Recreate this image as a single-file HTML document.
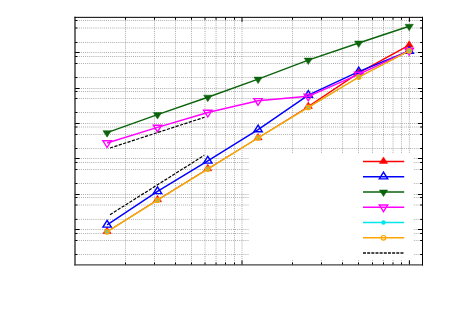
<!DOCTYPE html>
<html><head><meta charset="utf-8"><title>chart</title>
<style>html,body{margin:0;padding:0;background:#fff;font-family:"Liberation Sans",sans-serif;}body{width:450px;height:314px;overflow:hidden}</style>
</head><body>
<svg width="450" height="314" viewBox="0 0 450 314" style="display:block">
<rect width="450" height="314" fill="#fff"/>
<g stroke="#5c5c5c" stroke-width="0.5" stroke-dasharray="1 1.0833" fill="none">
<line x1="125.50" y1="18.5" x2="125.50" y2="264.9"/>
<line x1="154.50" y1="18.5" x2="154.50" y2="264.9"/>
<line x1="175.50" y1="18.5" x2="175.50" y2="264.9"/>
<line x1="191.50" y1="18.5" x2="191.50" y2="264.9"/>
<line x1="205.00" y1="18.5" x2="205.00" y2="264.9"/>
<line x1="216.05" y1="18.5" x2="216.05" y2="264.9"/>
<line x1="225.50" y1="18.5" x2="225.50" y2="264.9"/>
<line x1="234.50" y1="18.5" x2="234.50" y2="264.9"/>
<line x1="242.00" y1="18.5" x2="242.00" y2="264.9"/>
<line x1="292.50" y1="18.5" x2="292.50" y2="264.9"/>
<line x1="321.50" y1="18.5" x2="321.50" y2="264.9"/>
<line x1="342.50" y1="18.5" x2="342.50" y2="264.9"/>
<line x1="358.50" y1="18.5" x2="358.50" y2="264.9"/>
<line x1="372.50" y1="18.5" x2="372.50" y2="264.9"/>
<line x1="383.50" y1="18.5" x2="383.50" y2="264.9"/>
<line x1="393.00" y1="18.5" x2="393.00" y2="264.9"/>
<line x1="401.50" y1="18.5" x2="401.50" y2="264.9"/>
<line x1="409.40" y1="18.5" x2="409.40" y2="264.9"/>
<line x1="74.667" y1="20.50" x2="422.5" y2="20.50"/>
<line x1="74.667" y1="28.00" x2="422.5" y2="28.00"/>
<line x1="74.667" y1="42.50" x2="422.5" y2="42.50"/>
<line x1="74.667" y1="52.50" x2="422.5" y2="52.50"/>
<line x1="74.667" y1="56.50" x2="422.5" y2="56.50"/>
<line x1="74.667" y1="63.50" x2="422.5" y2="63.50"/>
<line x1="74.667" y1="77.50" x2="422.5" y2="77.50"/>
<line x1="74.667" y1="88.50" x2="422.5" y2="88.50"/>
<line x1="74.667" y1="91.50" x2="422.5" y2="91.50"/>
<line x1="74.667" y1="98.50" x2="422.5" y2="98.50"/>
<line x1="74.667" y1="112.50" x2="422.5" y2="112.50"/>
<line x1="74.667" y1="123.50" x2="422.5" y2="123.50"/>
<line x1="74.667" y1="127.00" x2="422.5" y2="127.00"/>
<line x1="74.667" y1="134.50" x2="422.5" y2="134.50"/>
<line x1="74.667" y1="148.50" x2="422.5" y2="148.50"/>
<line x1="74.667" y1="158.50" x2="422.5" y2="158.50"/>
<line x1="74.667" y1="162.50" x2="422.5" y2="162.50"/>
<line x1="74.667" y1="169.50" x2="422.5" y2="169.50"/>
<line x1="74.667" y1="183.50" x2="422.5" y2="183.50"/>
<line x1="74.667" y1="194.50" x2="422.5" y2="194.50"/>
<line x1="74.667" y1="197.50" x2="422.5" y2="197.50"/>
<line x1="74.667" y1="205.00" x2="422.5" y2="205.00"/>
<line x1="74.667" y1="219.40" x2="422.5" y2="219.40"/>
<line x1="74.667" y1="229.50" x2="422.5" y2="229.50"/>
<line x1="74.667" y1="233.50" x2="422.5" y2="233.50"/>
<line x1="74.667" y1="240.50" x2="422.5" y2="240.50"/>
<line x1="74.667" y1="254.50" x2="422.5" y2="254.50"/>
</g>
<g>
<polyline points="107.10,231.60 157.50,199.80 207.80,168.70 258.10,137.90 308.30,106.50" fill="none" stroke="#ff0000" stroke-width="1.0" stroke-linejoin="round"/>
<polyline points="308.30,106.50 358.70,72.90 409.20,45.20" fill="none" stroke="#ff0000" stroke-width="1.45" stroke-linejoin="round"/>
<polyline points="107.10,231.60 157.50,199.80 207.80,168.70 258.10,137.90 308.30,106.50 358.70,72.90 409.20,45.20" fill="none" stroke="#ff0000" stroke-width="0" stroke-linejoin="round"/>
<polygon points="107.10,227.10 102.95,233.60 111.25,233.60" fill="#ff0000" stroke="#ff0000" stroke-width="0.5" stroke-linejoin="miter"/>
<polygon points="157.50,195.30 153.35,201.80 161.65,201.80" fill="#ff0000" stroke="#ff0000" stroke-width="0.5" stroke-linejoin="miter"/>
<polygon points="207.80,164.20 203.65,170.70 211.95,170.70" fill="#ff0000" stroke="#ff0000" stroke-width="0.5" stroke-linejoin="miter"/>
<polygon points="258.10,133.40 253.95,139.90 262.25,139.90" fill="#ff0000" stroke="#ff0000" stroke-width="0.5" stroke-linejoin="miter"/>
<polygon points="308.30,102.00 304.15,108.50 312.45,108.50" fill="#ff0000" stroke="#ff0000" stroke-width="0.5" stroke-linejoin="miter"/>
<polygon points="358.70,68.40 354.55,74.90 362.85,74.90" fill="#ff0000" stroke="#ff0000" stroke-width="0.5" stroke-linejoin="miter"/>
<polygon points="409.20,40.70 405.05,47.20 413.35,47.20" fill="#ff0000" stroke="#ff0000" stroke-width="0.5" stroke-linejoin="miter"/>
<polyline points="107.10,224.90 157.50,191.40 207.80,160.90 258.10,129.60 308.30,95.10 358.70,71.60 409.20,51.00" fill="none" stroke="#0000ff" stroke-width="1.45" stroke-linejoin="round"/>
<polygon points="107.10,220.40 102.90,227.10 111.30,227.10" fill="none" stroke="#0000ff" stroke-width="1.4" stroke-linejoin="miter"/>
<polygon points="157.50,186.90 153.30,193.60 161.70,193.60" fill="none" stroke="#0000ff" stroke-width="1.4" stroke-linejoin="miter"/>
<polygon points="207.80,156.40 203.60,163.10 212.00,163.10" fill="none" stroke="#0000ff" stroke-width="1.4" stroke-linejoin="miter"/>
<polygon points="258.10,125.10 253.90,131.80 262.30,131.80" fill="none" stroke="#0000ff" stroke-width="1.4" stroke-linejoin="miter"/>
<polygon points="308.30,90.60 304.10,97.30 312.50,97.30" fill="none" stroke="#0000ff" stroke-width="1.4" stroke-linejoin="miter"/>
<polygon points="358.70,67.10 354.50,73.80 362.90,73.80" fill="none" stroke="#0000ff" stroke-width="1.4" stroke-linejoin="miter"/>
<polygon points="409.20,46.50 405.00,53.20 413.40,53.20" fill="none" stroke="#0000ff" stroke-width="1.4" stroke-linejoin="miter"/>
<polyline points="107.10,132.65 157.50,114.60 207.80,97.20 258.10,79.10 308.30,60.10 358.70,43.00 409.20,26.30" fill="none" stroke="#0b640b" stroke-width="1.45" stroke-linejoin="round"/>
<polygon points="107.10,137.15 102.95,130.65 111.25,130.65" fill="#0b640b" stroke="#0b640b" stroke-width="0.5" stroke-linejoin="miter"/>
<polygon points="157.50,119.10 153.35,112.60 161.65,112.60" fill="#0b640b" stroke="#0b640b" stroke-width="0.5" stroke-linejoin="miter"/>
<polygon points="207.80,101.70 203.65,95.20 211.95,95.20" fill="#0b640b" stroke="#0b640b" stroke-width="0.5" stroke-linejoin="miter"/>
<polygon points="258.10,83.60 253.95,77.10 262.25,77.10" fill="#0b640b" stroke="#0b640b" stroke-width="0.5" stroke-linejoin="miter"/>
<polygon points="308.30,64.60 304.15,58.10 312.45,58.10" fill="#0b640b" stroke="#0b640b" stroke-width="0.5" stroke-linejoin="miter"/>
<polygon points="358.70,47.50 354.55,41.00 362.85,41.00" fill="#0b640b" stroke="#0b640b" stroke-width="0.5" stroke-linejoin="miter"/>
<polygon points="409.20,30.80 405.05,24.30 413.35,24.30" fill="#0b640b" stroke="#0b640b" stroke-width="0.5" stroke-linejoin="miter"/>
<polyline points="107.10,143.00 157.50,127.40 207.80,112.50 258.10,100.80 308.30,96.30 358.70,74.40 409.20,50.70" fill="none" stroke="#ff00ff" stroke-width="1.45" stroke-linejoin="round"/>
<polygon points="107.10,147.50 102.90,140.80 111.30,140.80" fill="none" stroke="#ff00ff" stroke-width="1.4" stroke-linejoin="miter"/>
<polygon points="157.50,131.90 153.30,125.20 161.70,125.20" fill="none" stroke="#ff00ff" stroke-width="1.4" stroke-linejoin="miter"/>
<polygon points="207.80,117.00 203.60,110.30 212.00,110.30" fill="none" stroke="#ff00ff" stroke-width="1.4" stroke-linejoin="miter"/>
<polygon points="258.10,105.30 253.90,98.60 262.30,98.60" fill="none" stroke="#ff00ff" stroke-width="1.4" stroke-linejoin="miter"/>
<polygon points="308.30,100.80 304.10,94.10 312.50,94.10" fill="none" stroke="#ff00ff" stroke-width="1.4" stroke-linejoin="miter"/>
<polygon points="358.70,78.90 354.50,72.20 362.90,72.20" fill="none" stroke="#ff00ff" stroke-width="1.4" stroke-linejoin="miter"/>
<polygon points="409.20,55.20 405.00,48.50 413.40,48.50" fill="none" stroke="#ff00ff" stroke-width="1.4" stroke-linejoin="miter"/>
<polyline points="107.10,231.80 157.50,200.20 207.80,169.10 258.10,137.90 308.30,107.40 358.70,77.10 409.20,50.90" fill="none" stroke="#00e5ee" stroke-width="1.0" stroke-linejoin="round"/>
<circle cx="107.10" cy="231.80" r="2.25" fill="#00e5ee"/>
<circle cx="157.50" cy="200.20" r="2.25" fill="#00e5ee"/>
<circle cx="207.80" cy="169.10" r="2.25" fill="#00e5ee"/>
<circle cx="258.10" cy="137.90" r="2.25" fill="#00e5ee"/>
<circle cx="308.30" cy="107.40" r="2.25" fill="#00e5ee"/>
<circle cx="358.70" cy="77.10" r="2.25" fill="#00e5ee"/>
<circle cx="409.20" cy="50.90" r="2.25" fill="#00e5ee"/>
<polyline points="107.10,231.80 157.50,200.20 207.80,169.10 258.10,137.90 308.30,107.40 358.70,77.10 409.20,50.90" fill="none" stroke="#ffa500" stroke-width="1.5" stroke-linejoin="round"/>
<circle cx="107.10" cy="231.80" r="2.3" fill="#ffa500" fill-opacity="0.3" stroke="#ffa500" stroke-width="1.1"/>
<circle cx="157.50" cy="200.20" r="2.3" fill="#ffa500" fill-opacity="0.3" stroke="#ffa500" stroke-width="1.1"/>
<circle cx="207.80" cy="169.10" r="2.3" fill="#ffa500" fill-opacity="0.3" stroke="#ffa500" stroke-width="1.1"/>
<circle cx="258.10" cy="137.90" r="2.3" fill="#ffa500" fill-opacity="0.3" stroke="#ffa500" stroke-width="1.1"/>
<circle cx="308.30" cy="107.40" r="2.3" fill="#ffa500" fill-opacity="0.3" stroke="#ffa500" stroke-width="1.1"/>
<circle cx="358.70" cy="77.10" r="2.3" fill="#ffa500" fill-opacity="0.3" stroke="#ffa500" stroke-width="1.1"/>
<circle cx="409.20" cy="50.90" r="2.3" fill="#ffa500" fill-opacity="0.3" stroke="#ffa500" stroke-width="1.1"/>
<line x1="110" y1="148.0" x2="204.5" y2="117.3" stroke="#000" stroke-width="1.2" stroke-dasharray="3.2 1.4"/>
<line x1="110" y1="214.7" x2="204.3" y2="155.3" stroke="#000" stroke-width="1.2" stroke-dasharray="3.2 1.4"/>
</g>
<rect x="248.8" y="153.5" width="164.3" height="106.5" fill="#fff"/>
<polyline points="363.00,161.40 404.20,161.40" fill="none" stroke="#ff0000" stroke-width="1.45" stroke-linejoin="round"/>
<polyline points="383.50,161.40" fill="none" stroke="#ff0000" stroke-width="1.45" stroke-linejoin="round"/>
<polygon points="383.50,156.90 379.35,163.40 387.65,163.40" fill="#ff0000" stroke="#ff0000" stroke-width="0.5" stroke-linejoin="miter"/>
<polyline points="363.00,176.68 404.20,176.68" fill="none" stroke="#0000ff" stroke-width="1.45" stroke-linejoin="round"/>
<polyline points="383.50,176.68" fill="none" stroke="#0000ff" stroke-width="1.45" stroke-linejoin="round"/>
<polygon points="383.50,172.18 379.30,178.88 387.70,178.88" fill="none" stroke="#0000ff" stroke-width="1.4" stroke-linejoin="miter"/>
<polyline points="363.00,191.96 404.20,191.96" fill="none" stroke="#0b640b" stroke-width="1.45" stroke-linejoin="round"/>
<polyline points="383.50,191.96" fill="none" stroke="#0b640b" stroke-width="1.45" stroke-linejoin="round"/>
<polygon points="383.50,196.46 379.35,189.96 387.65,189.96" fill="#0b640b" stroke="#0b640b" stroke-width="0.5" stroke-linejoin="miter"/>
<polyline points="363.00,207.24 404.20,207.24" fill="none" stroke="#ff00ff" stroke-width="1.45" stroke-linejoin="round"/>
<polyline points="383.50,207.24" fill="none" stroke="#ff00ff" stroke-width="1.45" stroke-linejoin="round"/>
<polygon points="383.50,211.74 379.30,205.04 387.70,205.04" fill="none" stroke="#ff00ff" stroke-width="1.4" stroke-linejoin="miter"/>
<polyline points="363.00,222.52 404.20,222.52" fill="none" stroke="#00e5ee" stroke-width="1.45" stroke-linejoin="round"/>
<polyline points="383.50,222.52" fill="none" stroke="#00e5ee" stroke-width="1.45" stroke-linejoin="round"/>
<circle cx="383.50" cy="222.52" r="2.25" fill="#00e5ee"/>
<polyline points="363.00,237.80 404.20,237.80" fill="none" stroke="#ffa500" stroke-width="1.45" stroke-linejoin="round"/>
<polyline points="383.50,237.80" fill="none" stroke="#ffa500" stroke-width="1.45" stroke-linejoin="round"/>
<circle cx="383.50" cy="237.80" r="2.3" fill="#ffa500" fill-opacity="0.0" stroke="#ffa500" stroke-width="1.1"/>
<line x1="363.0" y1="253.0" x2="404.2" y2="253.0" stroke="#111" stroke-width="1.5" stroke-dasharray="3 1.16"/>
<g stroke="#000" stroke-width="1">
<line x1="125.50" y1="264.9" x2="125.50" y2="262.5"/>
<line x1="125.50" y1="17.35" x2="125.50" y2="19.75"/>
<line x1="154.50" y1="264.9" x2="154.50" y2="262.5"/>
<line x1="154.50" y1="17.35" x2="154.50" y2="19.75"/>
<line x1="175.50" y1="264.9" x2="175.50" y2="262.5"/>
<line x1="175.50" y1="17.35" x2="175.50" y2="19.75"/>
<line x1="191.50" y1="264.9" x2="191.50" y2="262.5"/>
<line x1="191.50" y1="17.35" x2="191.50" y2="19.75"/>
<line x1="205.00" y1="264.9" x2="205.00" y2="262.5"/>
<line x1="205.00" y1="17.35" x2="205.00" y2="19.75"/>
<line x1="216.05" y1="264.9" x2="216.05" y2="262.5"/>
<line x1="216.05" y1="17.35" x2="216.05" y2="19.75"/>
<line x1="225.50" y1="264.9" x2="225.50" y2="262.5"/>
<line x1="225.50" y1="17.35" x2="225.50" y2="19.75"/>
<line x1="234.50" y1="264.9" x2="234.50" y2="262.5"/>
<line x1="234.50" y1="17.35" x2="234.50" y2="19.75"/>
<line x1="242.00" y1="264.9" x2="242.00" y2="260.4"/>
<line x1="242.00" y1="17.35" x2="242.00" y2="21.85"/>
<line x1="292.50" y1="264.9" x2="292.50" y2="262.5"/>
<line x1="292.50" y1="17.35" x2="292.50" y2="19.75"/>
<line x1="321.50" y1="264.9" x2="321.50" y2="262.5"/>
<line x1="321.50" y1="17.35" x2="321.50" y2="19.75"/>
<line x1="342.50" y1="264.9" x2="342.50" y2="262.5"/>
<line x1="342.50" y1="17.35" x2="342.50" y2="19.75"/>
<line x1="358.50" y1="264.9" x2="358.50" y2="262.5"/>
<line x1="358.50" y1="17.35" x2="358.50" y2="19.75"/>
<line x1="372.50" y1="264.9" x2="372.50" y2="262.5"/>
<line x1="372.50" y1="17.35" x2="372.50" y2="19.75"/>
<line x1="383.50" y1="264.9" x2="383.50" y2="262.5"/>
<line x1="383.50" y1="17.35" x2="383.50" y2="19.75"/>
<line x1="393.00" y1="264.9" x2="393.00" y2="262.5"/>
<line x1="393.00" y1="17.35" x2="393.00" y2="19.75"/>
<line x1="401.50" y1="264.9" x2="401.50" y2="262.5"/>
<line x1="401.50" y1="17.35" x2="401.50" y2="19.75"/>
<line x1="409.40" y1="264.9" x2="409.40" y2="260.4"/>
<line x1="409.40" y1="17.35" x2="409.40" y2="21.85"/>
<line x1="75.0" y1="20.50" x2="77.4" y2="20.50"/>
<line x1="422.5" y1="20.50" x2="420.1" y2="20.50"/>
<line x1="75.0" y1="28.00" x2="77.4" y2="28.00"/>
<line x1="422.5" y1="28.00" x2="420.1" y2="28.00"/>
<line x1="75.0" y1="42.50" x2="77.4" y2="42.50"/>
<line x1="422.5" y1="42.50" x2="420.1" y2="42.50"/>
<line x1="75.0" y1="52.50" x2="79.6" y2="52.50"/>
<line x1="422.5" y1="52.50" x2="417.9" y2="52.50"/>
<line x1="75.0" y1="56.50" x2="77.4" y2="56.50"/>
<line x1="422.5" y1="56.50" x2="420.1" y2="56.50"/>
<line x1="75.0" y1="63.50" x2="77.4" y2="63.50"/>
<line x1="422.5" y1="63.50" x2="420.1" y2="63.50"/>
<line x1="75.0" y1="77.50" x2="77.4" y2="77.50"/>
<line x1="422.5" y1="77.50" x2="420.1" y2="77.50"/>
<line x1="75.0" y1="88.50" x2="79.6" y2="88.50"/>
<line x1="422.5" y1="88.50" x2="417.9" y2="88.50"/>
<line x1="75.0" y1="91.50" x2="77.4" y2="91.50"/>
<line x1="422.5" y1="91.50" x2="420.1" y2="91.50"/>
<line x1="75.0" y1="98.50" x2="77.4" y2="98.50"/>
<line x1="422.5" y1="98.50" x2="420.1" y2="98.50"/>
<line x1="75.0" y1="112.50" x2="77.4" y2="112.50"/>
<line x1="422.5" y1="112.50" x2="420.1" y2="112.50"/>
<line x1="75.0" y1="123.50" x2="79.6" y2="123.50"/>
<line x1="422.5" y1="123.50" x2="417.9" y2="123.50"/>
<line x1="75.0" y1="127.00" x2="77.4" y2="127.00"/>
<line x1="422.5" y1="127.00" x2="420.1" y2="127.00"/>
<line x1="75.0" y1="134.50" x2="77.4" y2="134.50"/>
<line x1="422.5" y1="134.50" x2="420.1" y2="134.50"/>
<line x1="75.0" y1="148.50" x2="77.4" y2="148.50"/>
<line x1="422.5" y1="148.50" x2="420.1" y2="148.50"/>
<line x1="75.0" y1="158.50" x2="79.6" y2="158.50"/>
<line x1="422.5" y1="158.50" x2="417.9" y2="158.50"/>
<line x1="75.0" y1="162.50" x2="77.4" y2="162.50"/>
<line x1="422.5" y1="162.50" x2="420.1" y2="162.50"/>
<line x1="75.0" y1="169.50" x2="77.4" y2="169.50"/>
<line x1="422.5" y1="169.50" x2="420.1" y2="169.50"/>
<line x1="75.0" y1="183.50" x2="77.4" y2="183.50"/>
<line x1="422.5" y1="183.50" x2="420.1" y2="183.50"/>
<line x1="75.0" y1="194.50" x2="79.6" y2="194.50"/>
<line x1="422.5" y1="194.50" x2="417.9" y2="194.50"/>
<line x1="75.0" y1="197.50" x2="77.4" y2="197.50"/>
<line x1="422.5" y1="197.50" x2="420.1" y2="197.50"/>
<line x1="75.0" y1="205.00" x2="77.4" y2="205.00"/>
<line x1="422.5" y1="205.00" x2="420.1" y2="205.00"/>
<line x1="75.0" y1="219.40" x2="77.4" y2="219.40"/>
<line x1="422.5" y1="219.40" x2="420.1" y2="219.40"/>
<line x1="75.0" y1="229.50" x2="79.6" y2="229.50"/>
<line x1="422.5" y1="229.50" x2="417.9" y2="229.50"/>
<line x1="75.0" y1="233.50" x2="77.4" y2="233.50"/>
<line x1="422.5" y1="233.50" x2="420.1" y2="233.50"/>
<line x1="75.0" y1="240.50" x2="77.4" y2="240.50"/>
<line x1="422.5" y1="240.50" x2="420.1" y2="240.50"/>
<line x1="75.0" y1="254.50" x2="77.4" y2="254.50"/>
<line x1="422.5" y1="254.50" x2="420.1" y2="254.50"/>
</g>
<line x1="75.0" y1="16.85" x2="75.0" y2="265.5" stroke="#222" stroke-width="1.3"/>
<line x1="74.4" y1="264.9" x2="423.0" y2="264.9" stroke="#444" stroke-width="1.2"/>
<line x1="74.4" y1="17.35" x2="423.0" y2="17.35" stroke="#000" stroke-width="1"/>
<line x1="422.5" y1="16.85" x2="422.5" y2="265.5" stroke="#000" stroke-width="1"/>
</svg>
</body></html>
